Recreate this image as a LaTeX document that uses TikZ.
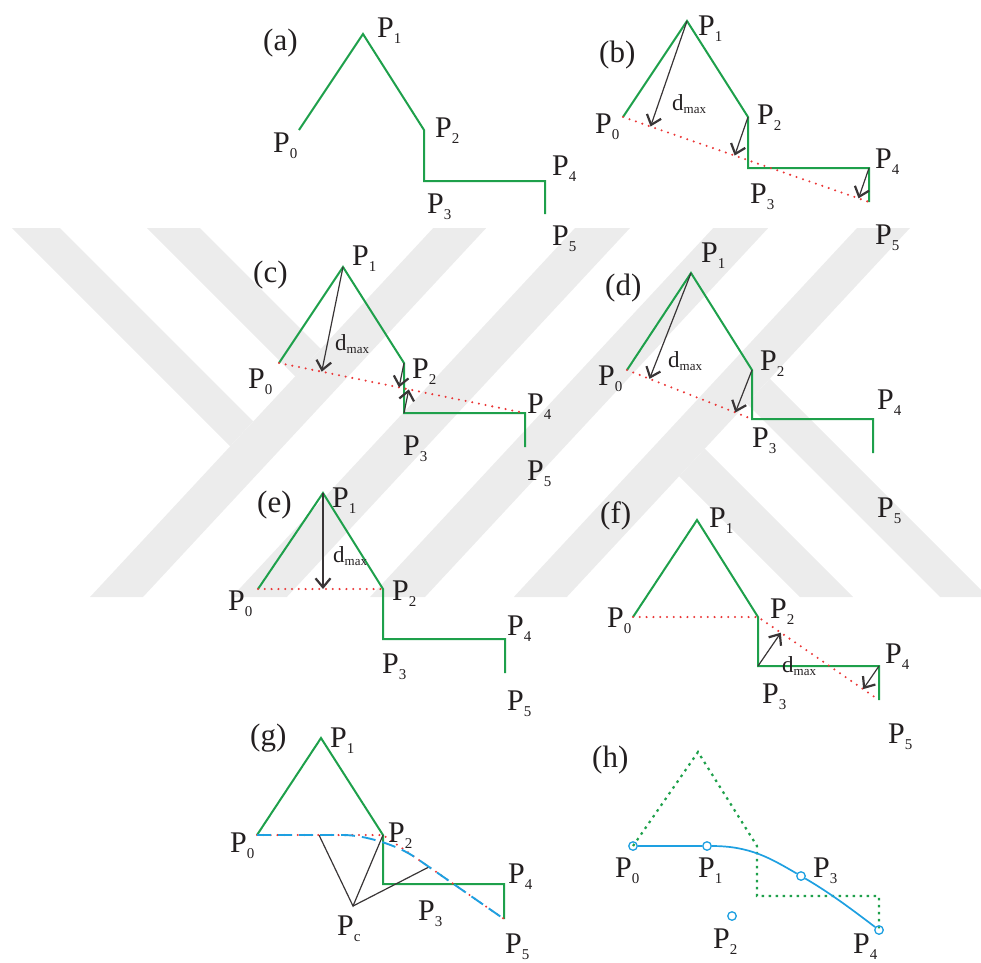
\documentclass[tikz,border=0pt]{standalone}
\usepackage{fontspec}
\setmainfont{Liberation Serif}
\usetikzlibrary{arrows.meta,calc}

\definecolor{polygreen}{RGB}{30,160,75}
\definecolor{chordred}{RGB}{235,55,55}
\definecolor{fitblue}{RGB}{30,160,225}
\definecolor{inkgray}{RGB}{35,31,32}
\definecolor{wmgray}{RGB}{236,236,236}

\newcommand{\ptl}[1]{P{\fontsize{15}{15}\selectfont\raisebox{-6pt}{#1}}}
\newcommand{\dmx}{d{\fontsize{13}{13}\selectfont\raisebox{-3pt}{max}}}

\tikzset{
  poly/.style={polygreen, line width=2pt},
  chord/.style={chordred, line width=2.3pt, dash pattern=on 0pt off 6.8pt, line cap=round},
  dist/.style={inkgray!90, line width=1.2pt, -{Straight Barb[length=9pt,width=15pt,line width=2.2pt]}},
  lbl/.style={font=\fontsize{30}{36}\selectfont, text=inkgray, inner sep=0pt, anchor=base west},
  tag/.style={font=\fontsize{31}{36}\selectfont, text=inkgray, inner sep=0pt, anchor=base west},
  dlbl/.style={font=\fontsize{23}{26}\selectfont, text=inkgray, inner sep=0pt, anchor=base west},
  wmark/.style={fill=wmgray},
}

\begin{document}
\begin{tikzpicture}[x=1pt,y=-1pt]
\useasboundingbox (0,0) rectangle (981,962);

% faint background mark
\foreach \r in {0,180} {
  \begin{scope}[wmark, rotate around={\r:(500,412.5)}]
  \fill (12,228) -- (60,228) -- (253.3,421.3) -- (230.2,446.2) -- cycle;
  \fill (147,228) -- (200,228) -- (320.8,348.8) -- (295.3,376.3) -- cycle;
  \fill (433.2,228) -- (486.2,228) -- (143,597) -- (90,597) -- cycle;
  \fill (575,228) -- (630,228) -- (286.8,597) -- (231.8,597) -- cycle;
  \end{scope}
}

% (a) the input polyline
\begin{scope}[shift={(299,130)}]
\coordinate (a0) at (0,0);
\coordinate (a1) at (64,-96);
\coordinate (a2) at (125,0);
\coordinate (a3) at (125,51);
\coordinate (a4) at (246,51);
\coordinate (a5) at (246,84);
\draw[poly] (a0) -- (a1) -- (a2) -- (a3) -- (a4) -- (a5);
\node[tag] (ta) at (-36,-80) {(a)};
\node[lbl] (la0) at (-26,22) {\ptl{0}};
\node[lbl] (la1) at (78,-93) {\ptl{1}};
\node[lbl] (la2) at (136,7) {\ptl{2}};
\node[lbl] (la3) at (128,83) {\ptl{3}};
\node[lbl] (la4) at (253,45) {\ptl{4}};
\node[lbl] (la5) at (253,115) {\ptl{5}};
\end{scope}

% (b) first chord P0-P5
\begin{scope}[shift={(623,117)}]
\coordinate (b0) at (0,0);
\coordinate (b1) at (64,-96);
\coordinate (b2) at (125,0);
\coordinate (b3) at (125,51);
\coordinate (b4) at (246,51);
\coordinate (b5) at (246,85);
\draw[poly] (b0) -- (b1) -- (b2) -- (b3) -- (b4) -- (b5);
\draw[chord] (b0) -- (b5);
\draw[dist] (b1) -- ($(b0)!(b1)!(b5)$);
\draw[dist] (b2) -- ($(b0)!(b2)!(b5)$);
\draw[dist] (b4) -- ($(b0)!(b4)!(b5)$);
\node[dlbl] (db) at (49,-7) {\dmx};
\node[tag] (tb) at (-24,-55) {(b)};
\node[lbl] (lb0) at (-28,16) {\ptl{0}};
\node[lbl] (lb1) at (75,-82) {\ptl{1}};
\node[lbl] (lb2) at (134,7) {\ptl{2}};
\node[lbl] (lb3) at (127,86) {\ptl{3}};
\node[lbl] (lb4) at (252,51) {\ptl{4}};
\node[lbl] (lb5) at (252,127) {\ptl{5}};
\end{scope}

% (c) chord P0-P4
\begin{scope}[shift={(279,363)}]
\coordinate (c0) at (0,0);
\coordinate (c1) at (64,-96);
\coordinate (c2) at (125,0);
\coordinate (c3) at (125,50);
\coordinate (c4) at (246,50);
\coordinate (c5) at (246,84);
\draw[poly] (c0) -- (c1) -- (c2) -- (c3) -- (c4) -- (c5);
\draw[chord] (c0) -- (c4);
\draw[dist] (c1) -- ($(c0)!(c1)!(c4)$);
\draw[dist] (c2) -- ($(c0)!(c2)!(c4)$);
\draw[dist] (c3) -- ($(c0)!(c3)!(c4)$);
\node[dlbl] (dc) at (56,-13) {\dmx};
\node[tag] (tc) at (-26,-81) {(c)};
\node[lbl] (lc0) at (-31,25) {\ptl{0}};
\node[lbl] (lc1) at (73,-98) {\ptl{1}};
\node[lbl] (lc2) at (133,15) {\ptl{2}};
\node[lbl] (lc3) at (124,92) {\ptl{3}};
\node[lbl] (lc4) at (248,50) {\ptl{4}};
\node[lbl] (lc5) at (248,117) {\ptl{5}};
\end{scope}

% (d) chord P0-P3
\begin{scope}[shift={(627,370)}]
\coordinate (d0) at (0,0);
\coordinate (d1) at (64,-97);
\coordinate (d2) at (125,0);
\coordinate (d3) at (125,49);
\coordinate (d4) at (246,49);
\coordinate (d5) at (246,83);
\draw[poly] (d0) -- (d1) -- (d2) -- (d3) -- (d4) -- (d5);
\draw[chord] (d0) -- (d3);
\draw[dist] (d1) -- ($(d0)!(d1)!(d3)$);
\draw[dist] (d2) -- ($(d0)!(d2)!(d3)$);
\node[dlbl] (dd) at (41,-3) {\dmx};
\node[tag] (td) at (-22,-75) {(d)};
\node[lbl] (ld0) at (-29,15) {\ptl{0}};
\node[lbl] (ld1) at (74,-108) {\ptl{1}};
\node[lbl] (ld2) at (133,0) {\ptl{2}};
\node[lbl] (ld3) at (125,77) {\ptl{3}};
\node[lbl] (ld4) at (250,39) {\ptl{4}};
\node[lbl] (ld5) at (250,147) {\ptl{5}};
\end{scope}

% (e) chord P0-P2
\begin{scope}[shift={(258,589)}]
\coordinate (e0) at (0,0);
\coordinate (e1) at (65,-96);
\coordinate (e2) at (125,0);
\coordinate (e3) at (125,50);
\coordinate (e4) at (247,50);
\coordinate (e5) at (247,84);
\draw[poly] (e0) -- (e1) -- (e2) -- (e3) -- (e4) -- (e5);
\draw[chord] (e0) -- (e2);
\draw[dist] (e1) -- ($(e0)!(e1)!(e2)$);
\node[dlbl] (de) at (75,-27) {\dmx};
\node[tag] (te) at (-1,-77) {(e)};
\node[lbl] (le0) at (-30,21) {\ptl{0}};
\node[lbl] (le1) at (74,-82) {\ptl{1}};
\node[lbl] (le2) at (134,11) {\ptl{2}};
\node[lbl] (le3) at (124,84) {\ptl{3}};
\node[lbl] (le4) at (249,46) {\ptl{4}};
\node[lbl] (le5) at (249,121) {\ptl{5}};
\end{scope}

% (f) chords P0-P2 and P2-P5
\begin{scope}[shift={(633,617)}]
\coordinate (f0) at (0,0);
\coordinate (f1) at (64,-97);
\coordinate (f2) at (125,0);
\coordinate (f3) at (125,49);
\coordinate (f4) at (246,49);
\coordinate (f5) at (246,83);
\draw[poly] (f0) -- (f1) -- (f2) -- (f3) -- (f4) -- (f5);
\draw[chord] (f0) -- (f2) -- (f5);
\draw[dist] (f3) -- ($(f2)!(f3)!(f5)$);
\draw[dist] (f4) -- ($(f2)!(f4)!(f5)$);
\node[dlbl] (df) at (149,55) {\dmx};
\node[tag] (tf) at (-33,-94) {(f)};
\node[lbl] (lf0) at (-26,10) {\ptl{0}};
\node[lbl] (lf1) at (76,-90) {\ptl{1}};
\node[lbl] (lf2) at (137,1) {\ptl{2}};
\node[lbl] (lf3) at (129,86) {\ptl{3}};
\node[lbl] (lf4) at (252,46) {\ptl{4}};
\node[lbl] (lf5) at (255,126) {\ptl{5}};
\end{scope}

% (g) smoothing of the simplified line
\begin{scope}[shift={(257,835)}]
\coordinate (g0) at (0,0);
\coordinate (g1) at (64,-97);
\coordinate (g2) at (126,0);
\coordinate (g3) at (126,49);
\coordinate (g4) at (247,49);
\coordinate (g5) at (247,84);
\coordinate (gc) at (96,71);
\coordinate (gm) at (62,0);
\coordinate (gn) at ($(g2)!0.38!(g5)$);
\draw[poly] (g0) -- (g1) -- (g2) -- (g3) -- (g4) -- (g5);
\draw[inkgray!90, line width=1.2pt] (gm) -- (gc) -- (g2);
\draw[inkgray!90, line width=1.2pt] (gc) -- (gn);
\draw[chord] (g0) -- (g2) -- (g5);
\draw[fitblue, line width=1.9pt, dash pattern=on 14pt off 7pt, rounded corners=40pt] (g0) -- (g2) -- (g5);
\node[tag] (tg) at (-7,-90) {(g)};
\node[lbl] (lg0) at (-27,17) {\ptl{0}};
\node[lbl] (lg1) at (73,-88) {\ptl{1}};
\node[lbl] (lg2) at (131,7) {\ptl{2}};
\node[lbl] (lg3) at (161,85) {\ptl{3}};
\node[lbl] (lg4) at (251,48) {\ptl{4}};
\node[lbl] (lgc) at (80,100) {\ptl{c}};
\node[lbl] (lg5) at (248,118) {\ptl{5}};
\end{scope}

% (h) fitted curve through the kept points
\begin{scope}[shift={(633,846)}]
\coordinate (h0) at (0,0);
\coordinate (h1) at (65,-94);
\coordinate (h2) at (124,0);
\coordinate (h3) at (124,50);
\coordinate (h4) at (246,50);
\coordinate (h5) at (246,84);
\draw[polygreen, line width=2.2pt, dash pattern=on 2.5pt off 4.5pt] (h0) -- (h1) -- (h2) -- (h3) -- (h4) -- (h5);
\node[circle, draw=fitblue, line width=1.3pt, minimum size=8.5pt, inner sep=0pt] (k0) at (0,0) {};
\node[circle, draw=fitblue, line width=1.3pt, minimum size=8.5pt, inner sep=0pt] (k1) at (74,0) {};
\node[circle, draw=fitblue, line width=1.3pt, minimum size=8.5pt, inner sep=0pt] (k2) at (99,70) {};
\node[circle, draw=fitblue, line width=1.3pt, minimum size=8.5pt, inner sep=0pt] (k3) at (168,30) {};
\node[circle, draw=fitblue, line width=1.3pt, minimum size=8.5pt, inner sep=0pt] (k4) at (246,84) {};
\draw[fitblue, line width=1.7pt] (k0) -- (k1) .. controls (117,0) and (137,12) .. (k3) .. controls (197,47) and (217,62) .. (k4);
\node[tag] (th) at (-41,-79) {(h)};
\node[lbl] (lh0) at (-18,31) {\ptl{0}};
\node[lbl] (lh1) at (65,31) {\ptl{1}};
\node[lbl] (lh2) at (80,102) {\ptl{2}};
\node[lbl] (lh3) at (180,31) {\ptl{3}};
\node[lbl] (lh4) at (220,107) {\ptl{4}};
\end{scope}
\end{tikzpicture}
\end{document}
